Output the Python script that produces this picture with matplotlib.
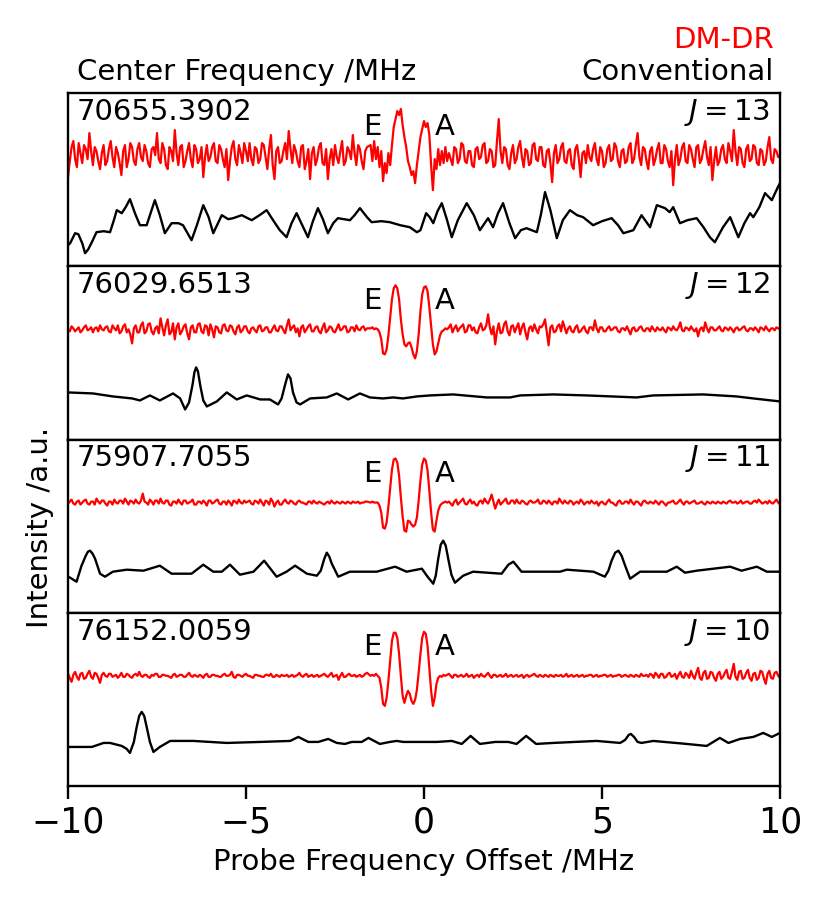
import numpy as np
import matplotlib
matplotlib.use("Agg")
import matplotlib.pyplot as plt

# ---------------- data (intensity, arbitrary units relative to trace baseline) -------------
PANEL_FREQ = ["70655.3902", "76029.6513", "75907.7055", "76152.0059"]
PANEL_J = [13, 12, 11, 10]
XTICKS = [-10, -5, 0, 5, 10]

LEFT_SPAN = (-10.0, -1.6)   # sampled every 0.05 MHz
MID_SPAN = (-1.5, 0.65)     # sampled every 0.05 MHz
RIGHT_SPAN = (0.7, 10.0)    # sampled every 0.05 MHz

# DM-DR traces (red)
RED13_LEFT = [-22, -6, 8, 14, -4, -12, 12, 2, -8, 10, 6, -4, 22, 4, -10, 8, 4, -6, -14, 2,
              10, -10, -6, 6, 14, -2, -12, 8, 2, -8, -20, 4, 10, -12, -4, 12, 8, -6, -10, 6,
              12, -2, -6, 10, 4, -8, -12, 6, 8, 0, 22, -4, -8, 12, 6, -10, -14, 8, 4, -6,
              25, 2, -10, 8, 10, -12, -6, 4, 12, -4, -12, 10, 6, -8, -4, 8, -22, -2, 10, -6,
              -2, 8, 12, -6, -8, 10, 6, -4, -12, 6, -25, -6, 8, 14, -4, -10, 10, 2, -8, 12,
              4, -6, 12, -4, -10, 8, 6, -8, -4, 12, 10, -2, -14, 6, 20, -10, -24, 4, 8, -8,
              -6, 4, 12, -4, 24, 6, -8, 10, 4, -6, -12, 8, 10, -14, -6, 6, -24, 2, 8, -10,
              -4, 8, 12, -8, -10, 6, -24, -4, 6, -10, 10, -2, -8, 4, 14, -10, -6, 8, 4, -4,
              20, 2, -10, 10, 6, -6, -14, 4, 8]
RED13_MID = [10, -6, 14, -4, 8, -12, 4, -26, -8, -18,
             2, -10, 10, 28, 36, 44, 40, 46, 30, 18,
             8, -6, -12, -20, -16, -28, -10, 4, 18, 26,
             34, 28, 32, 20, -10, -35, -4, -14, 6, -10,
             4, -8, 8, -6]
RED13_RIGHT = [2, -4, -10, 8, 6, -8, -4, 12, 10, -6, -8, 4, 4, -10, -12, 6, 8, -4, -2, 10,
               12, -8, -6, 6, 4, -12, -10, 14, 36, 4, -8, 8, 6, -10, -14, 2, 10, -8, -4, 8,
               14, -2, -12, 6, 4, -10, -8, 10, 12, -4, -6, 8, 8, -10, -12, 4, 6, -8, -27, 2,
               10, -8, -4, 8, 12, -6, -8, 4, 6, -10, -14, 6, 10, -4, -22, 2, 4, -8, 10, -2,
               -6, 6, 12, -4, -10, 8, 4, -12, -8, 6, 10, -6, -4, 12, 8, -6, -12, 4, 6, -8,
               -6, 8, 12, -8, -4, 10, 22, -2, -10, 8, 6, -6, -14, 4, 8, -10, -4, 6, 12, -8,
               -8, 10, 6, -6, -12, 4, -30, -4, 10, -10, -4, 8, 12, -6, -8, 10, 6, -4, -12, 8,
               10, -8, -4, 6, 14, -2, -10, 8, -25, -6, 8, -10, -6, 6, 10, -4, -8, 12, 4, -6,
               25, 4, -10, 8, 6, -8, -12, 6, 10, -6, -4, 10, 8, -8, -10, 6, 4, -10, -6, 8,
               18, -4, -8, 6, 4, -2, 0]

RED12_LEFT = [0, -2, 3, 1, -2, 0, 2, -3, -1, 2, 4, -1, 0, 2, -3, 1, 2, -2, 4, 0,
              -1, 2, 3, -2, -3, 4, 1, -1, 4, -4, -2, 3, 5, -3, 0, -5, -14, 1, 4, -3,
              -3, 4, 7, -4, -2, 5, 6, -2, -5, 1, 3, -4, 11, 2, -6, 4, 10, -5, -3, 6,
              -10, 2, 6, -5, -2, 3, 5, -4, -10, 2, 4, -3, -3, 5, 6, -2, -4, 4, 3, -6,
              5, 0, -8, 3, 2, -3, -4, 4, 5, -1, -2, 4, 3, -2, -5, 2, 4, -3, -1, 3,
              3, -2, -4, 1, 2, -1, -3, 3, 4, -2, -1, 2, 2, -3, -3, 1, 4, -1, -2, 3,
              3, -1, -4, 4, 10, -1, 2, 4, -3, 1, -7, 2, 4, -3, 0, 3, 5, -2, -2, 2,
              3, -2, -4, 2, 6, -3, -1, 3, 2, -2, -3, 1, 5, -1, 0, 3, 3, -3, -2, 2,
              2, -2, 4, 0, -1, 2, 3, -1, 1]
RED12_MID = [1, 2, 0, 1, 0, -3, -10, -24, -25, -20,
             -6, 12, 30, 41, 44, 41, 30, 10, -5, -15,
             -17, -14, -13, -18, -25, -29, -22, -5, 18, 35,
             42, 43, 38, 22, 3, -15, -25, -22, -14, -6,
             -2, -1, 1, 0]
RED12_RIGHT = [2, 5, -3, 1, 4, -2, 1, 3, 5, -3, -2, 4, 4, -1, 2, -3, -4, 2, 6, -1,
               0, 4, 15, 2, -5, 3, -15, -2, 6, -4, -3, 5, 8, -2, -6, 3, 4, -3, 2, 6,
               -5, 2, 6, -3, -10, 1, 3, -2, 5, 0, -4, 3, 2, 5, 10, -3, -16, 2, 4, -3,
               -2, 3, 5, -2, 8, 2, -4, 1, 3, -2, -3, 2, 4, -3, -2, 1, 3, -2, -4, 2,
               2, -1, 9, 1, -3, 2, 2, -2, -2, 1, 3, -1, 0, 2, 2, -2, -3, 1, 1, -1,
               3, -1, -5, 1, 2, -2, -1, 2, 3, -1, -2, 1, 1, -2, 3, 0, -2, 2, 0, -1,
               2, -1, -3, 2, 1, -1, 3, 0, -1, 2, 7, -1, -2, 2, 1, -1, 3, 0, -2, 1,
               -7, 0, 2, -2, 7, 1, -3, 2, 2, -1, -1, 1, 3, -1, -2, 2, 1, -1, 2, 0,
               -3, 1, 2, -1, 0, 2, 3, -1, -2, 1, 1, -1, 2, 0, -3, 2, 1, -1, 3, 0,
               -2, 1, 1, -1, 2, 1, 0]

RED11_LEFT = [-1, 1, 3, -1, -2, 1, 2, -2, 0, 2, 3, -1, -2, 1, 1, -2, 4, 1, -1, 2,
              2, -1, -3, 1, 1, -2, 3, 0, -1, 2, 2, -1, 4, 1, -2, 2, 1, -1, 3, 0,
              -1, 2, 9, 1, 0, -2, 3, 1, -2, 2, 2, -1, 4, 0, -1, 2, 2, -2, -3, 1,
              1, -1, 3, 0, -2, 2, 2, -1, 0, 1, 3, -2, -2, 1, 1, -1, 2, 0, -3, 2,
              2, -1, 0, 2, 3, -1, -2, 1, 1, -2, 2, 0, -3, 2, 1, -1, 3, 0, -1, 2,
              0, 1, 2, -1, -2, 2, 1, -1, 3, 0, -3, 2, 1, -2, 4, 1, -4, 0, 2, -2,
              -2, 1, 3, 0, -1, 2, 1, -1, -2, 1, 2, 0, 0, -1, -2, 1, 1, -1, 2, 0,
              -1, 1, 0, -1, -2, 0, 1, -1, 2, 0, -1, 1, 0, -1, 1, 0, -1, 1, 0, -1,
              1, 0, 0, 1, -1, 0, 0, 1, 1]
RED11_MID = [0, 1, 0, 0, 0, -3, -10, -25, -26, -20,
             -4, 14, 33, 43, 44, 40, 27, 5, -14, -28,
             -29, -18, -19, -22, -24, -22, -15, 2, 22, 38,
             44, 42, 32, 12, -10, -27, -29, -18, -8, -3,
             -1, 0, 1, 0]
RED11_RIGHT = [1, -1, -3, 1, 3, -2, 0, 2, 4, -1, -2, 1, 3, -1, 1, -2, -3, 1, 2, -1,
               4, 1, -1, 3, 8, 1, -6, -1, 3, -2, 0, 2, 4, -1, -1, 2, 2, -1, 3, 0,
               -1, 2, 1, -1, -2, 1, 2, 0, 0, 1, 3, -1, -1, 2, 1, -1, 2, 0, -2, 1,
               1, -1, 4, 1, -1, 2, 0, -1, 2, 1, -2, 0, 1, -1, 3, 1, -2, 0, 1, -1,
               2, 0, -1, 1, -3, 0, 1, -1, -2, 1, 3, 0, 0, -2, -3, 1, 2, -1, -1, 1,
               1, -1, 3, 0, -2, 1, 1, -1, -3, 1, 2, 0, -1, 1, 0, -1, 2, 0, -2, 1,
               1, -1, -3, 0, 0, 1, 2, -1, -1, 1, 3, 0, -2, 1, 1, -1, 0, 1, 2, -1,
               -1, 0, 1, -1, -2, 1, 0, -1, 1, 0, -1, 1, 0, -1, 1, 0, -1, 1, 2, 0,
               0, 1, -1, 0, 2, -1, 0, 1, 1, -1, -1, 1, 2, 0, 3, 1, -1, 0, 1, -1,
               2, 0, -1, 1, 3, 0, -2]

RED10_LEFT = [2, -2, -6, 1, 4, -1, -4, 2, 3, -3, -2, 2, 5, -1, -3, 3, 2, -2, -7, 1,
              3, 0, -1, 2, 2, -1, 0, 1, -2, 0, 3, -1, -1, 2, 1, -1, -2, 1, 2, 0,
              4, 0, -1, 1, 1, -1, -2, 1, 0, 2, 2, -1, -1, 1, 1, 0, 0, -1, -2, 1,
              2, -1, 0, 1, 1, -1, -1, 1, 3, 0, -1, 1, 0, -1, 1, 0, -2, 1, 2, -1,
              -1, 1, 1, 0, 0, -1, -1, 1, 2, 0, 0, 1, 4, -1, -2, 1, 1, 0, -1, 1,
              2, 0, 0, -1, -2, 1, 1, 0, 0, -1, -1, 1, 1, 0, 2, -1, -1, 1, 0, -1,
              1, 0, 0, 1, -1, 0, 1, -1, 0, 1, 3, 0, -1, 1, 2, -1, 0, 1, -1, 0,
              1, -1, 0, 1, 2, 0, -1, 1, 3, -1, 0, 1, -4, 0, 3, -1, -1, 1, 2, 0,
              0, 1, -1, 0, 1, -1, 0, 2, 3]
RED10_MID = [0, 1, 0, 2, 0, -2, -12, -28, -30, -22,
             -5, 15, 35, 43, 43, 38, 22, 0, -20, -27,
             -20, -15, -18, -25, -28, -24, -14, 3, 22, 38,
             44, 42, 30, 8, -15, -30, -22, -8, -2, 0,
             -1, 1, 0, 1]
RED10_RIGHT = [2, 0, -2, 1, 1, -1, 0, 1, -1, 0, 2, -1, 0, 1, -2, 0, 1, -1, 2, 0,
               -1, 1, 3, 0, -2, 1, 1, -1, 0, 1, -1, 0, 2, -1, 0, 1, -1, 0, 1, -1,
               0, 1, -2, 0, 1, -1, 0, 1, 2, 0, -1, 1, 0, -1, 1, 0, -1, 1, 0, -1,
               1, 0, 0, 1, -1, 0, 2, -1, 0, 1, -1, 0, 1, -1, 0, 1, -1, 0, 0, 1,
               1, -1, 0, 1, -1, 0, 0, 1, 1, -1, 0, 1, -1, 0, 0, 1, 1, -1, 0, 1,
               0, -1, 1, 0, -1, 1, 0, -1, 2, 0, 0, 1, -1, 2, 1, -2, 3, 1, -2, 2,
               2, -2, -1, 2, 3, -1, 0, 2, -3, 1, 4, -1, -2, 3, 1, -2, 5, 0, -3, 3,
               8, -2, -4, 3, 5, -3, -2, 4, 3, -2, -5, 2, 4, -3, -1, 3, 6, -2, -3, 4,
               12, -1, -4, 4, 5, -3, -2, 3, 6, -2, -5, 2, 3, -4, -2, 5, 4, -3, -8, 2,
               5, -2, -3, 3, 4, 0, -2]

# Conventional traces (black)
BLK13_X = [-10.0, -9.94, -9.8, -9.71, -9.6, -9.52, -9.43, -9.33, -9.2, -9.0,
           -8.82, -8.72, -8.63, -8.49, -8.38, -8.26, -8.12, -7.98, -7.79, -7.68,
           -7.56, -7.42, -7.28, -7.09, -6.9, -6.77, -6.53, -6.38, -6.2, -6.05,
           -5.92, -5.68, -5.5, -5.36, -5.12, -4.84, -4.62, -4.42, -4.24, -4.05,
           -3.86, -3.72, -3.58, -3.42, -3.26, -3.12, -2.98, -2.84, -2.7, -2.55,
           -2.42, -2.08, -1.95, -1.8, -1.6, -1.47, -1.2, -0.96, -0.67, -0.4,
           -0.2, -0.1, 0.06, 0.16, 0.26, 0.38, 0.5, 0.64, 0.78, 0.95,
           1.2, 1.4, 1.57, 1.8, 1.94, 2.08, 2.22, 2.4, 2.56, 2.72,
           2.88, 3.17, 3.28, 3.4, 3.55, 3.73, 3.9, 4.1, 4.3, 4.47,
           4.75, 5.0, 5.27, 5.45, 5.6, 5.88, 6.11, 6.35, 6.54, 6.77,
           6.9, 7.0, 7.19, 7.4, 7.66, 7.85, 8.03, 8.17, 8.4, 8.6,
           8.83, 9.0, 9.16, 9.25, 9.42, 9.58, 9.77, 9.94, 10.0]
BLK13_Y = [-30, -28, -18, -19, -28, -38, -34, -27, -17, -16,
           -17, -6, 5, 2, 8, 16, 2, -10, -10, 2,
           15, 0, -18, -8, -8, -10, -25, -10, 10, -2,
           -18, 0, -4, -3, 0, -5, 0, 5, -5, -15,
           -22, -8, 2, -10, -22, -6, 7, -4, -18, -8,
           -3, -5, 0, 7, -2, -7, -6, -7, -10, -12,
           -17, -15, 2, -2, -8, 4, 12, -4, -22, -5,
           12, 0, -15, -3, -12, 2, 12, -8, -23, -15,
           -13, -17, 0, 23, 5, -23, -5, 5, 0, -2,
           -10, -6, -3, -10, -18, -15, 0, -12, 10, 7,
           3, 8, -8, -5, -3, -12, -22, -27, -12, -2,
           -22, -8, 2, -2, 8, 22, 15, 28, 32]

BLK12_X = [-10.0, -9.3, -8.74, -8.2, -7.98, -7.7, -7.42, -7.05, -6.85, -6.71,
           -6.6, -6.5, -6.45, -6.4, -6.35, -6.28, -6.2, -6.1, -5.82, -5.54,
           -5.26, -4.98, -4.6, -4.33, -4.1, -4.0, -3.9, -3.82, -3.75, -3.68,
           -3.58, -3.48, -3.2, -2.73, -2.45, -2.13, -1.8, -1.52, -1.15, -0.87,
           -0.59, -0.2, 0.17, 0.82, 1.76, 2.42, 2.7, 3.63, 4.57, 5.97,
           6.44, 7.84, 8.78, 9.25, 10.0]
BLK12_Y = [6, 5, 2, 0, -2, 3, -2, 5, 0, -11,
           -4, 14, 26, 31, 27, 12, -2, -8, -3, 6,
           -1, 3, -1, -1, -6, 0, 14, 24, 20, 6,
           -4, -6, 0, 1, 5, -1, 5, 1, 0, 1,
           0, 2, 3, 4, 1, 1, 3, 4, 3, 1,
           3, 4, 2, 0, -3]

BLK11_X = [-10.0, -9.94, -9.76, -9.62, -9.5, -9.44, -9.38, -9.31, -9.24, -9.1,
           -8.96, -8.74, -8.35, -7.88, -7.42, -7.09, -6.53, -6.2, -5.92, -5.68,
           -5.45, -5.17, -4.79, -4.49, -4.14, -3.86, -3.62, -3.29, -3.01, -2.9,
           -2.8, -2.73, -2.66, -2.59, -2.41, -2.08, -1.33, -0.81, -0.49, -0.06,
           0.1, 0.26, 0.33, 0.4, 0.47, 0.54, 0.61, 0.68, 0.77, 0.87,
           1.1, 1.38, 2.18, 2.37, 2.51, 2.74, 3.82, 4.01, 4.76, 5.08,
           5.18, 5.27, 5.37, 5.46, 5.55, 5.65, 5.79, 6.07, 6.82, 7.1,
           7.33, 7.66, 8.13, 8.6, 8.92, 9.35, 9.63, 10.0]
BLK11_Y = [-6, -7, -11, 5, 15, 19, 20, 17, 12, -3,
           -6, -1, 1, 0, 5, -3, -3, 6, -1, -1,
           6, -4, -1, 10, -6, -1, 5, -3, -5, 0,
           12, 18, 14, 7, -6, -1, -1, 4, -1, 2,
           -6, -13, -5, 12, 26, 30, 25, 12, -4, -12,
           -5, -1, -3, 6, 9, -1, -1, 1, -1, -6,
           0, 10, 18, 20, 15, 5, -8, -1, -1, 4,
           -2, 0, 2, 4, 0, 4, -1, -1]

BLK10_X = [-10.0, -9.33, -9.0, -8.82, -8.49, -8.35, -8.26, -8.15, -8.07, -8.0,
           -7.93, -7.86, -7.79, -7.7, -7.6, -7.42, -7.13, -6.48, -5.54, -4.6,
           -3.76, -3.53, -3.25, -2.97, -2.69, -2.45, -2.22, -2.03, -1.75, -1.56,
           -1.24, -0.96, -0.77, -0.58, -0.3, 0.36, 0.78, 1.06, 1.31, 1.57,
           2.0, 2.37, 2.6, 2.87, 3.15, 3.63, 4.85, 5.51, 5.65, 5.75,
           5.81, 5.9, 6.0, 6.11, 6.44, 7.38, 7.94, 8.31, 8.55, 8.88,
           9.25, 9.53, 9.77, 10.0]
BLK10_Y = [-5, -5, -1, -1, -4, -7, -11, 0, 15, 26,
           30, 26, 15, 0, -10, -5, 1, 1, -1, 0,
           1, 5, 0, 0, 3, -1, -2, 0, 0, 4,
           -2, 0, 1, 0, 0, 0, 1, -2, 6, -2,
           0, 0, -2, 6, -2, -1, 1, -1, 2, 7,
           8, 5, 0, -1, 1, -2, -4, 4, -1, 3,
           5, 9, 5, 9]

RED_TRACES = [(RED13_LEFT, RED13_MID, RED13_RIGHT),
              (RED12_LEFT, RED12_MID, RED12_RIGHT),
              (RED11_LEFT, RED11_MID, RED11_RIGHT),
              (RED10_LEFT, RED10_MID, RED10_RIGHT)]
BLK_TRACES = [(BLK13_X, BLK13_Y), (BLK12_X, BLK12_Y),
              (BLK11_X, BLK11_Y), (BLK10_X, BLK10_Y)]

# ---------------- layout / style -------------
RED_BASE = [111, 110, 110, 110]
BLK_BASE = [51, 41, 42, 44]
PANEL_H = 173
RED = "#ff0000"
FS = 21

plt.rcParams['font.family'] = ['DejaVu Sans']
fig = plt.figure(figsize=(8.3, 9.16), dpi=100)
axes = fig.subplots(4, 1, sharex=True)
fig.subplots_adjust(left=68/830, right=780/830, top=1-93/916, bottom=1-786/916, hspace=0)

for i, ax in enumerate(axes):
    left, mid, right = RED_TRACES[i]
    xr = np.concatenate([np.linspace(*LEFT_SPAN, len(left)),
                         np.linspace(*MID_SPAN, len(mid)),
                         np.linspace(*RIGHT_SPAN, len(right))])
    yr = np.concatenate([left, mid, right]).astype(float) + RED_BASE[i]
    ax.plot(xr, yr, color=RED, lw=1.6)
    bx, by = BLK_TRACES[i]
    ax.plot(bx, np.asarray(by, float) + BLK_BASE[i], color='black', lw=1.7)

    ax.set_xlim(-10, 10)
    ax.set_ylim(0, PANEL_H)
    ax.set_yticks([])
    for s in ax.spines.values():
        s.set_linewidth(1.7)
    ax.text(0.0125, 0.845, PANEL_FREQ[i], transform=ax.transAxes, fontsize=FS,
            ha='left', va='baseline')
    ax.text(0.986, 0.845, rf"$J = {PANEL_J[i]}$", transform=ax.transAxes, fontsize=FS,
            ha='right', va='baseline')
    tr = ax.get_xaxis_transform()
    ax.text(-1.71, 0.755, "E", transform=tr, fontsize=FS, ha='left', va='baseline')
    ax.text(0.31, 0.755, "A", transform=tr, fontsize=FS, ha='left', va='baseline')
    if i < 3:
        ax.tick_params(axis='x', bottom=False, labelbottom=False)

axes[-1].set_xticks(XTICKS)
axes[-1].set_xticklabels([f"{t}".replace('-', '\u2212') for t in XTICKS])
axes[-1].tick_params(axis='x', direction='out', length=9, width=1.7, labelsize=25, pad=5)
axes[-1].set_xlabel("Probe Frequency Offset /MHz", fontsize=FS, labelpad=6)

fig.text(40/830, 1-527/916, "Intensity /a.u.", rotation=90, ha='center', va='center',
         fontsize=FS)
fig.text(77/830, 1-80/916, "Center Frequency /MHz", ha='left', va='baseline', fontsize=FS)
fig.text(774/830, 1-80/916, "Conventional", ha='right', va='baseline', fontsize=FS)
fig.text(774/830, 1-48/916, "DM-DR", ha='right', va='baseline', fontsize=FS, color=RED)

fig.savefig("out.png", dpi=100)
